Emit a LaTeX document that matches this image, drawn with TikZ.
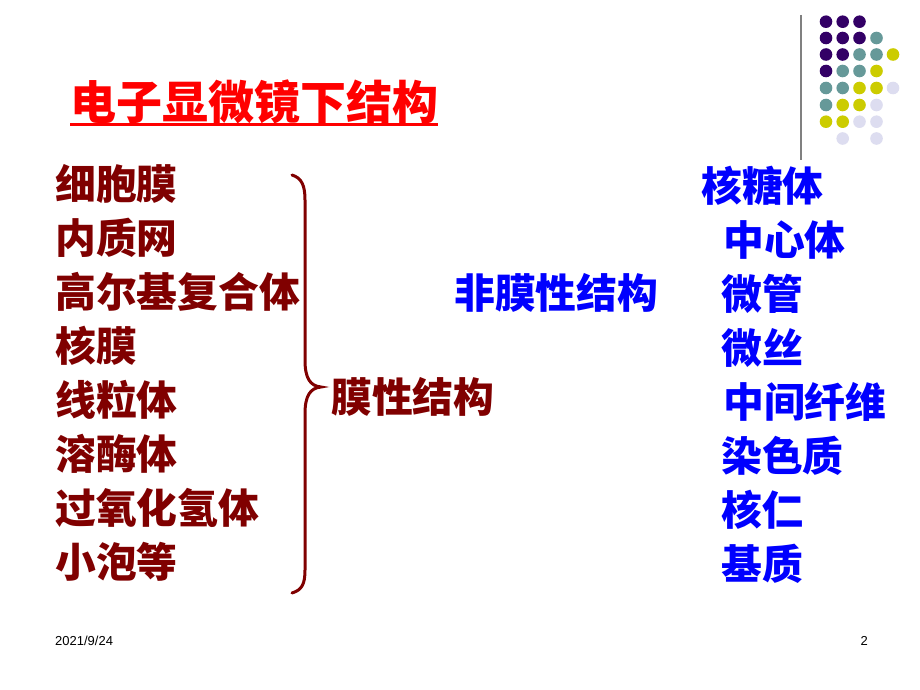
\documentclass[tikz,border=0pt]{standalone}
\usepackage{fontspec}
\setmainfont{Liberation Sans}
\newfontfamily\cjk{Noto Sans CJK SC}
\definecolor{maroonred}{HTML}{800000}
\definecolor{pureblue}{HTML}{0000FF}
\definecolor{titlered}{HTML}{FF0000}
\definecolor{dotP}{HTML}{330066}
\definecolor{dotT}{HTML}{669999}
\definecolor{dotY}{HTML}{CCCC00}
\definecolor{dotL}{HTML}{DDDDF0}
\tikzset{
  lefttext/.style={anchor=west,inner sep=0pt,font=\cjk\bfseries\fontsize{40.8bp}{40.8bp}\selectfont,text=maroonred},
  righttext/.style={anchor=west,inner sep=0pt,font=\cjk\bfseries\fontsize{40.8bp}{40.8bp}\selectfont,text=pureblue},
  titletext/.style={anchor=west,inner sep=0pt,font=\cjk\bfseries\fontsize{46bp}{46bp}\selectfont,text=titlered},
  foot/.style={anchor=west,inner sep=0pt,font=\fontsize{13bp}{13bp}\selectfont},
  bracestroke/.style={draw=maroonred,line width=3bp,line cap=round},
  dotcircle/.style={radius=6.3},
}
\begin{document}
\begin{tikzpicture}[x=1bp,y=-1bp]
\useasboundingbox (0,0) rectangle (920,690);
\fill[white] (0,0) rectangle (920,690);
% decoration line and dots
\coordinate (vtop) at (801,15);
\coordinate (vbot) at (801,160);
\draw[gray,line width=1.6bp] (vtop) -- (vbot);
\foreach \x/\y/\c in {826/21.7/dotP,842.7/21.7/dotP,859.5/21.7/dotP,
  826/38/dotP,842.7/38/dotP,859.5/38/dotP,876.5/38/dotT,
  826/54.5/dotP,842.7/54.5/dotP,859.5/54.5/dotT,876.5/54.5/dotT,893/54.5/dotY,
  826/71/dotP,842.7/71/dotT,859.5/71/dotT,876.5/71/dotY,
  826/88/dotT,842.7/88/dotT,859.5/88/dotY,876.5/88/dotY,893/88/dotL,
  826/105/dotT,842.7/105/dotY,859.5/105/dotY,876.5/105/dotL,
  826/121.7/dotY,842.7/121.7/dotY,859.5/121.7/dotL,876.5/121.7/dotL,
  842.7/138.5/dotL,876.5/138.5/dotL}
  \fill[\c] (\x,\y) circle[dotcircle];
% title
\node[titletext] (title) at (70,102) {电子显微镜下结构};
\draw[titlered,line width=2.8bp] ([yshift=-0.5bp]title.south west) -- ([yshift=-0.5bp]title.south east);
% left column
\node[lefttext] (l1) at (55,184) {细胞膜};
\node[lefttext] (l2) at (55,238) {内质网};
\node[lefttext] (l3) at (55,292) {高尔基复合体};
\node[lefttext] (l4) at (55,346) {核膜};
\node[lefttext] (l5) at (55,400) {线粒体};
\node[lefttext] (l6) at (55,454) {溶酶体};
\node[lefttext] (l7) at (55,508) {过氧化氢体};
\node[lefttext] (l8) at (55,562) {小泡等};
% brace
\coordinate (btop) at (292,175);
\coordinate (btip) at (321,387);
\coordinate (bbot) at (292,593);
\draw[bracestroke] (btop) .. controls (302,178) and (305,186) .. (305,200) -- (305,360)
  .. controls (305,378) and (310,386) .. (btip)
  .. controls (310,388) and (305,396) .. (305,414) -- (305,570)
  .. controls (305,584) and (302,590) .. (bbot);
\node[lefttext] (mem) at (331,397) {膜性结构};
\node[righttext] (nonmem) at (454,293) {非膜性结构};
% right column
\node[righttext] (r1) at (701,186) {核糖体};
\node[righttext] (r2) at (723,240) {中心体};
\node[righttext] (r3) at (721,294) {微管};
\node[righttext] (r4) at (721,348) {微丝};
\node[righttext] (r5) at (723,402) {中间纤维};
\node[righttext] (r6) at (721,456) {染色质};
\node[righttext] (r7) at (721,510) {核仁};
\node[righttext] (r8) at (721,564) {基质};
% footer
\node[foot] (date) at (55,641) {2021/9/24};
\node[foot,anchor=east] (page) at (868,641) {2};
\end{tikzpicture}
\end{document}
